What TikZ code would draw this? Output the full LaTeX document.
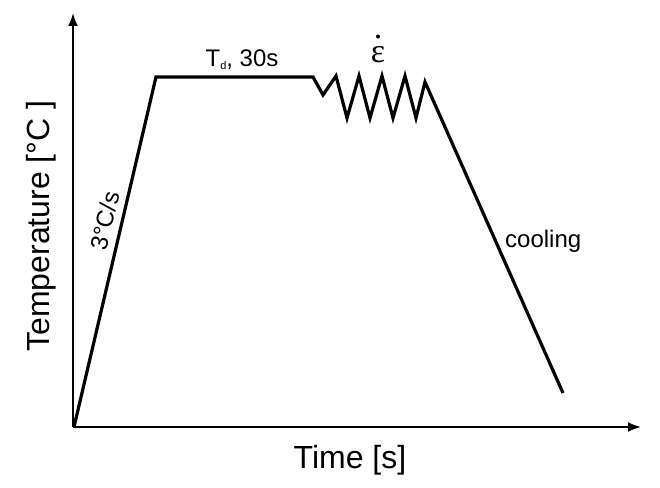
\documentclass[tikz,border=0pt]{standalone}
\usepackage{fontspec}
\setmainfont{Liberation Sans}
\newfontfamily\serifeps{Liberation Serif}
\usetikzlibrary{arrows.meta}
\begin{document}
\begin{tikzpicture}[x=1bp,y=-1bp,
  axis/.style={line width=2bp,-{Latex[length=13bp,width=10bp]}},
  curve/.style={line width=3.2bp,line join=miter,line cap=butt},
  big/.style={font=\fontsize{32bp}{38bp}\selectfont,inner sep=0pt},
  small/.style={font=\fontsize{24bp}{28bp}\selectfont,inner sep=0pt}]
\useasboundingbox (0,0) rectangle (660,488);
% axes
\coordinate (O) at (73,427);
\coordinate (ytip) at (73,13);
\coordinate (xtip) at (641,427);
\draw[axis] (O) -- (ytip);
\draw[axis] (O) -- (xtip);
% curve
\coordinate (p0) at (74,427);
\coordinate (p1) at (156,77);
\coordinate (p2) at (313,77);
\coordinate (z1) at (323,95);
\coordinate (z2) at (336,76);
\coordinate (z3) at (347,118);
\coordinate (z4) at (359,76);
\coordinate (z5) at (370,118);
\coordinate (z6) at (382,76);
\coordinate (z7) at (393,118);
\coordinate (z8) at (405,76);
\coordinate (z9) at (416,118);
\coordinate (z10) at (425,82);
\coordinate (pe) at (563,393);
\draw[curve] (p0) -- (p1) -- (p2) -- (z1) -- (z2) -- (z3) -- (z4) -- (z5) -- (z6) -- (z7) -- (z8) -- (z9) -- (z10) -- (pe);
% labels
\node[big,anchor=base] (xl) at (350,468) {Time [s]};
\node[big,rotate=90] (yl) at (41,226) {Temperature [°C ]};
\node[small,anchor=base] (td) at (242,67) {T\raisebox{-3bp}{\fontsize{11bp}{11bp}\selectfont d}, 30s};
\node[small,anchor=base west] (cool) at (505,248) {cooling};
\node[small,rotate=76.7] (rate) at (105,221) {3°C/s};
\node[inner sep=0pt,anchor=base,font=\fontsize{34bp}{38bp}\selectfont\serifeps] (eps) at (378,63) {\ooalign{ε\cr\hidewidth\raisebox{0.72em}{.}\hidewidth\cr}};
\end{tikzpicture}
\end{document}
